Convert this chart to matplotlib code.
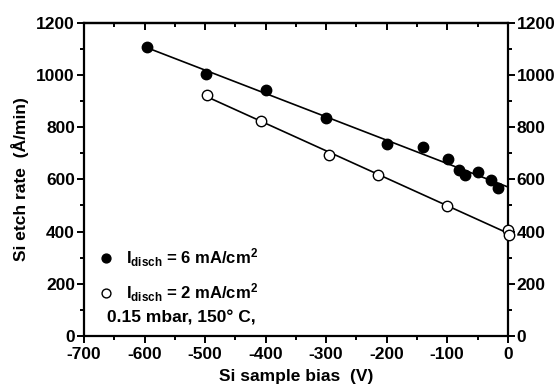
import numpy as np
from matplotlib import pyplot as plt
from matplotlib.ticker import MultipleLocator

plt.rcParams['font.family'] = ['Liberation Sans', 'DejaVu Sans']
plt.rcParams['font.weight'] = 'bold'
plt.rcParams['axes.unicode_minus'] = False
plt.rcParams['mathtext.fontset'] = 'custom'
plt.rcParams['mathtext.rm'] = 'Liberation Sans:bold'
plt.rcParams['mathtext.it'] = 'Liberation Sans:bold'
plt.rcParams['mathtext.bf'] = 'Liberation Sans:bold'

# Données
bias_6 = [-596, -499, -400, -300, -199, -140, -98, -81, -71, -50, -28, -16]
rate_6 = [1107, 1003, 942, 836, 734, 725, 677, 636, 617, 628, 598, 566]
bias_2 = [-497, -407, -296, -214, -101, 0, 2]
rate_2 = [923, 824, 692, 618, 499, 405, 387]

lbl_6 = r"I$_{\rm disch}$ = 6 mA/cm$^{\rm 2}$"
lbl_2 = r"I$_{\rm disch}$ = 2 mA/cm$^{\rm 2}$"

fs = 12.5

fig = plt.figure(figsize=(5.58, 3.88), dpi=100)
ax = fig.add_axes([0.1505, 0.134, 0.7595, 0.8075])

# Ajustements linéaires
p6 = np.polyfit(bias_6, rate_6, 1)
p2 = np.polyfit(bias_2, rate_2, 1)
x6 = np.array([-600, 0])
x2 = np.array([-500, 0])
ax.plot(x6, np.polyval(p6, x6), color='black', lw=1.2, zorder=2)
ax.plot(x2, np.polyval(p2, x2), color='black', lw=1.2, zorder=2)

h6, = ax.plot(bias_6, rate_6, 'o', ms=7.5, color='black', mec='black', label=lbl_6, zorder=3, clip_on=False)
h2, = ax.plot(bias_2, rate_2, 'o', ms=7.5, mfc='white', mec='black', mew=1.0, label=lbl_2, zorder=3, clip_on=False)

ax.set_xlim(-700, 0)
ax.set_ylim(0, 1200)
ax.xaxis.set_major_locator(MultipleLocator(100))
ax.xaxis.set_minor_locator(MultipleLocator(50))
ax.yaxis.set_major_locator(MultipleLocator(200))
ax.yaxis.set_minor_locator(MultipleLocator(100))

for s in ax.spines.values():
    s.set_linewidth(1.6)

ax.tick_params(which='both', direction='out', width=1.4, labelsize=fs,
               left=True, right=True, bottom=True, top=False,
               labelleft=True, labelright=True, pad=1.5)
ax.tick_params(axis='x', which='both', pad=3)
ax.tick_params(which='major', length=5)
ax.tick_params(which='minor', length=3)

# graduations supérieures vers l'intérieur
secx = ax.secondary_xaxis('top')
secx.xaxis.set_major_locator(MultipleLocator(100))
secx.xaxis.set_minor_locator(MultipleLocator(50))
secx.tick_params(which='both', direction='in', width=1.4, labeltop=False)
secx.tick_params(which='major', length=5)
secx.tick_params(which='minor', length=3)
secx.spines['top'].set_linewidth(1.6)

for lab in ax.get_xticklabels() + ax.get_yticklabels():
    lab.set_fontweight('bold')

ax.set_xlabel("Si sample bias  (V)", fontsize=fs, fontweight='bold', labelpad=5)
ax.set_ylabel("Si etch rate  (Å/min)", fontsize=fs, fontweight='bold', labelpad=5)

leg = ax.legend(handles=[h6, h2], loc='center left', bbox_to_anchor=(0.0, 0.194),
                frameon=False, fontsize=12, handletextpad=0.6, labelspacing=0.7,
                borderaxespad=0.3, handlelength=1.2, markerscale=0.85)
for t in leg.get_texts():
    t.set_fontweight('bold')

ax.text(0.055, 0.057, "0.15 mbar, 150° C,", transform=ax.transAxes,
        fontsize=fs, fontweight='bold', ha='left', va='center')

fig.savefig("out.png", dpi=100)
